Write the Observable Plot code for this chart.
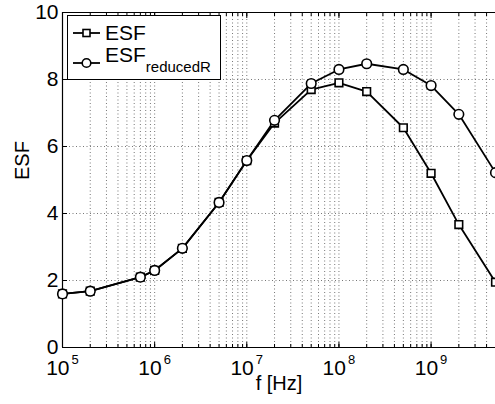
<!DOCTYPE html>
<html><head><meta charset="utf-8">
<script src="https://cdn.jsdelivr.net/npm/d3@7"></script>
<script src="https://cdn.jsdelivr.net/npm/@observablehq/plot@0.6"></script>
<style>
body{margin:0;background:#fff;font-family:"Liberation Sans",Arial,sans-serif}
#wrap{position:relative;width:495px;height:404px;overflow:hidden}
#legend{position:absolute;left:67px;top:15px;width:154px;height:65px;border:1px solid #000;background:#fff;box-sizing:border-box}
#legend svg{position:absolute;left:0;top:0}
</style></head><body><div id="wrap"></div>
<script>
const freq = [1e5,2e5,7e5,1e6,2e6,5e6,1e7,2e7,5e7,1e8,2e8,5e8,1e9,2e9,5e9];
const esf = [1.6,1.68,2.1,2.3,2.96,4.33,5.58,6.7,7.7,7.9,7.64,6.56,5.2,3.67,1.95];
const esfReduced = [1.6,1.68,2.1,2.3,2.96,4.33,5.58,6.78,7.88,8.3,8.47,8.3,7.82,6.96,5.22];
const yTicks = [0,2,4,6,8,10];
const xMajor = [1e5,1e6,1e7,1e8,1e9];
const xExp = ["5","6","7","8","9"];
const seriesNames = ["ESF","ESF"];
const subscript = ["","reducedR"];

const xDomain = [1e5,5e9];
const xAll = d3.scaleLog().domain(xDomain).ticks().filter(v => v >= xDomain[0] && v <= xDomain[1]);
const rowsA = freq.map((f,i)=>({f, v: esf[i]}));
const rowsB = freq.map((f,i)=>({f, v: esfReduced[i]}));
const majors = xMajor.map((f,i)=>({f, e: xExp[i]}));

const font = '"Liberation Sans", Arial, sans-serif';
const chart = Plot.plot({
  width: 495, height: 404,
  marginLeft: 62, marginRight: 0, marginTop: 12, marginBottom: 57,
  style: {fontFamily: font, background: "#fff", color: "#000"},
  x: {type: "log", domain: xDomain, axis: null, label: null},
  y: {domain: [0,10], axis: null, label: null},
  marks: [
    Plot.gridX(xAll, {stroke: "#555", strokeOpacity: 0.8, strokeDasharray: "1,2.5", strokeWidth: 1}),
    Plot.gridY(yTicks, {stroke: "#555", strokeOpacity: 0.8, strokeDasharray: "1,2.5", strokeWidth: 1}),
    Plot.axisX(xAll, {anchor: "bottom", tickSize: -3, tickFormat: () => "", label: null, strokeWidth: 1}),
    Plot.axisX(xMajor, {anchor: "bottom", tickSize: -5, tickFormat: () => "", label: null, strokeWidth: 1}),
    Plot.axisX(xAll, {anchor: "top", tickSize: -3, tickFormat: () => "", label: null, strokeWidth: 1}),
    Plot.axisX(xMajor, {anchor: "top", tickSize: -5, tickFormat: () => "", label: null, strokeWidth: 1}),
    Plot.axisY(yTicks, {anchor: "left", tickSize: -5, tickPadding: 9, fontSize: 21, label: null, tickFormat: d => String(d)}),
    Plot.text(majors, {x: "f", y: 0, text: () => "10", textAnchor: "end", dx: 7, dy: 21, fontSize: 21}),
    Plot.text(majors, {x: "f", y: 0, text: "e", textAnchor: "start", dx: 9, dy: 12, fontSize: 13}),
    Plot.ruleY([0], {stroke: "#000", strokeWidth: 1.2}),
    Plot.ruleY([10], {stroke: "#000", strokeWidth: 1.2}),
    Plot.ruleX([xDomain[0]], {stroke: "#000", strokeWidth: 1.2}),
    Plot.line(rowsA, {x: "f", y: "v", stroke: "#000", strokeWidth: 1.8}),
    Plot.line(rowsB, {x: "f", y: "v", stroke: "#000", strokeWidth: 1.8}),
    Plot.dot(rowsA, {x: "f", y: "v", symbol: "square", r: 4.3, fill: "#fff", stroke: "#000", strokeWidth: 1.6}),
    Plot.dot(rowsB, {x: "f", y: "v", symbol: "circle", r: 4.8, fill: "#fff", stroke: "#000", strokeWidth: 1.6}),
    Plot.text(["f [Hz]"], {frameAnchor: "bottom", dy: 42, fontSize: 20}),
    Plot.text(["ESF"], {frameAnchor: "left", dx: -40, rotate: -90, fontSize: 20})
  ]
});
const wrap = document.getElementById("wrap");
wrap.appendChild(chart);

// legend
const lg = document.createElement("div");
lg.id = "legend";
const ns = "http://www.w3.org/2000/svg";
const svg = document.createElementNS(ns, "svg");
svg.setAttribute("width", 154); svg.setAttribute("height", 65);
svg.style.fontFamily = font;
const lineY = [17, 47];
const textY = [24, 46];
seriesNames.forEach((name, i) => {
  const y = lineY[i];
  const ln = document.createElementNS(ns, "line");
  ln.setAttribute("x1", 5); ln.setAttribute("x2", 32); ln.setAttribute("y1", y); ln.setAttribute("y2", y);
  ln.setAttribute("stroke", "#000"); ln.setAttribute("stroke-width", 1.8);
  svg.appendChild(ln);
  let m;
  if (i === 0) {
    m = document.createElementNS(ns, "rect");
    m.setAttribute("x", 15); m.setAttribute("y", y - 3.5); m.setAttribute("width", 7); m.setAttribute("height", 7);
  } else {
    m = document.createElementNS(ns, "circle");
    m.setAttribute("cx", 18.5); m.setAttribute("cy", y); m.setAttribute("r", 4.3);
  }
  m.setAttribute("fill", "#fff"); m.setAttribute("stroke", "#000"); m.setAttribute("stroke-width", 1.6);
  svg.appendChild(m);
  const t = document.createElementNS(ns, "text");
  t.setAttribute("x", 37); t.setAttribute("y", textY[i]);
  t.setAttribute("font-size", 21);
  t.textContent = name;
  if (subscript[i]) {
    const s = document.createElementNS(ns, "tspan");
    s.setAttribute("font-size", 15); s.setAttribute("dy", 10);
    s.textContent = subscript[i];
    t.appendChild(s);
  }
  svg.appendChild(t);
});
lg.appendChild(svg);
wrap.appendChild(lg);
</script></body></html>
